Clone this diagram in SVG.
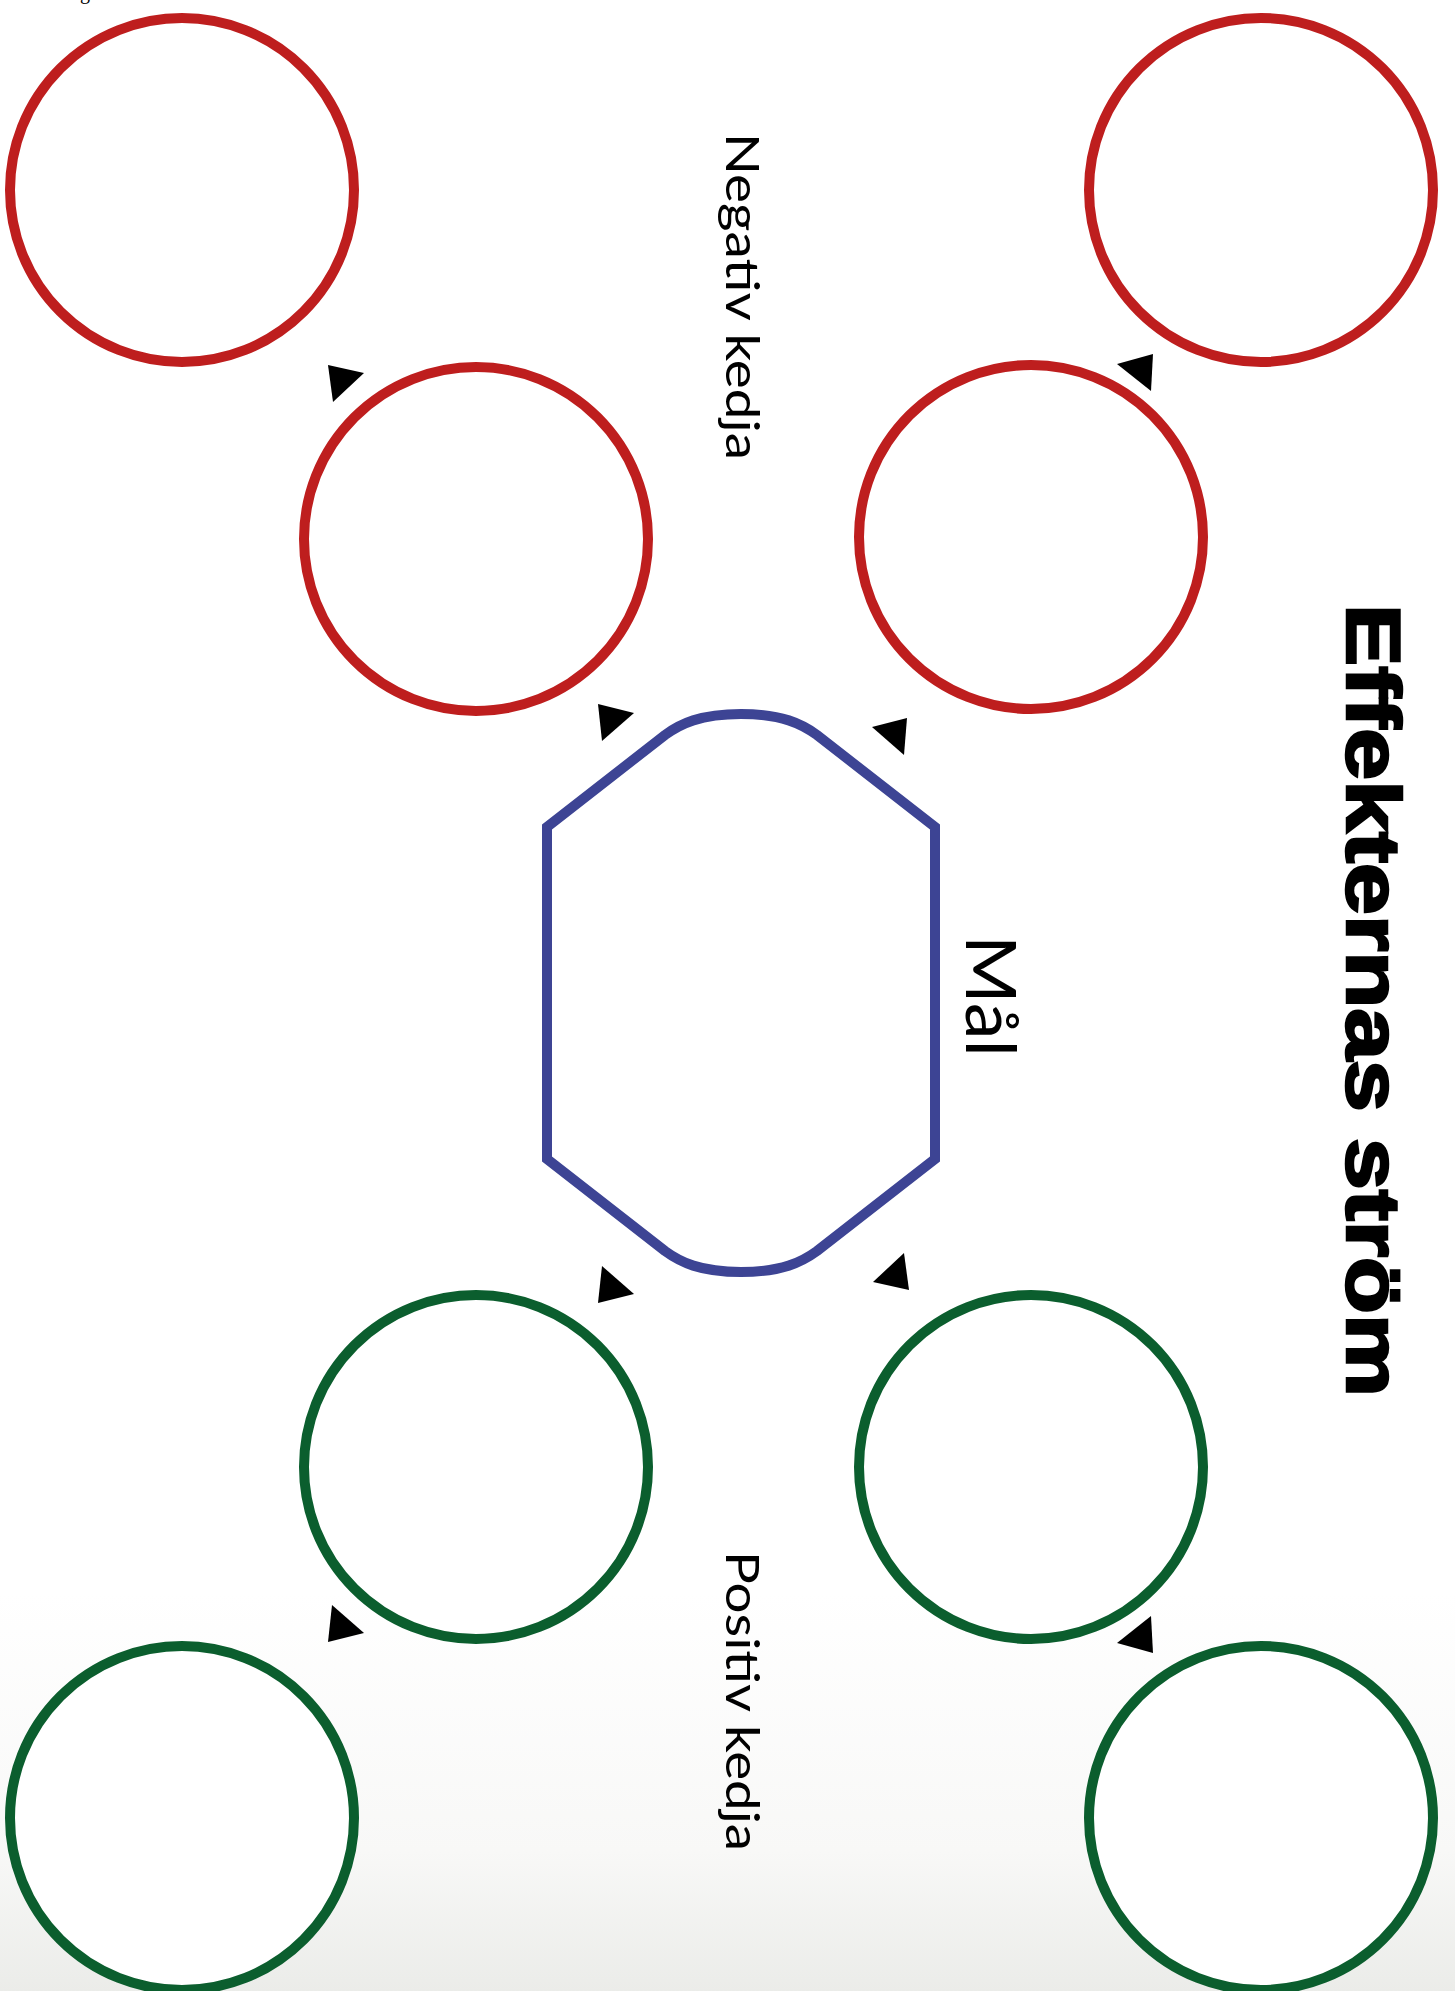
<svg xmlns="http://www.w3.org/2000/svg" width="1455" height="1991" viewBox="0 0 1455 1991">
  <defs>
    <linearGradient id="bg" x1="0" y1="0" x2="0" y2="1991" gradientUnits="userSpaceOnUse">
      <stop offset="0" stop-color="#ffffff"/>
      <stop offset="0.80" stop-color="#ffffff"/>
      <stop offset="0.93" stop-color="#f8f8f7"/>
      <stop offset="1" stop-color="#ebece9"/>
    </linearGradient>
  </defs>
  <style>
    .neg { fill: #ffffff; stroke: #be1e1e; stroke-width: 10; }
    .pos { fill: #ffffff; stroke: #0b5e2e; stroke-width: 10; }
    .goal { fill: #ffffff; stroke: #3d4494; stroke-width: 10; stroke-linejoin: miter; }
    .arrow { fill: #000000; stroke: none; }
    .label { font-family: Lato, "Open Sans", "Liberation Sans", sans-serif; font-weight: 400; fill: #000000; }
    .title { font-family: "Liberation Sans", Arial, sans-serif; font-weight: 700; fill: #000000; stroke: #000000; stroke-width: 2.5; }
  </style>
  <rect x="0" y="0" width="1455" height="1991" fill="url(#bg)"/>

  <text x="80" y="-1" font-family="Liberation Serif, serif" font-size="20" fill="#000">g</text>

  <g id="title">
    <text class="title" font-size="76" transform="translate(1347,604) rotate(90)" textLength="793" lengthAdjust="spacingAndGlyphs">Effekternas ström</text>
  </g>

  <g id="connectors">
    <polygon class="arrow" points="328,365 364,373 333,402"/>
    <polygon class="arrow" points="598,704 634,713 602,741"/>
    <polygon class="arrow" points="907,718 872,727 904,755"/>
    <polygon class="arrow" points="1153,354 1117,364 1151,391"/>
    <polygon class="arrow" points="602,1266 634,1294 598,1303"/>
    <polygon class="arrow" points="904,1253 873,1282 909,1290"/>
    <polygon class="arrow" points="332,1605 364,1633 328,1642"/>
    <polygon class="arrow" points="1151,1616 1117,1643 1153,1653"/>
  </g>

  <g id="neg-outer-left"><circle class="neg" cx="182" cy="190" r="172"/></g>
  <g id="neg-outer-right"><circle class="neg" cx="1261" cy="190" r="172"/></g>
  <g id="neg-inner-left"><circle class="neg" cx="476" cy="539" r="172"/></g>
  <g id="neg-inner-right"><circle class="neg" cx="1031" cy="537" r="172"/></g>
  <g id="pos-inner-left"><circle class="pos" cx="476" cy="1467" r="172"/></g>
  <g id="pos-inner-right"><circle class="pos" cx="1031" cy="1467" r="172"/></g>
  <g id="pos-outer-left"><circle class="pos" cx="182" cy="1818" r="172"/></g>
  <g id="pos-outer-right"><circle class="pos" cx="1261" cy="1818" r="172"/></g>

  <g id="goal">
    <path class="goal" d="M547,827 L665,735 C680,724 700,714 741,714 C782,714 802,724 817,735 L935,827 L935,1159 L817,1251 C802,1262 782,1272 741,1272 C700,1272 680,1262 665,1251 L547,1159 Z"/>
    <text class="label" font-size="70" transform="translate(966,935) rotate(90)" textLength="122" lengthAdjust="spacingAndGlyphs">Mål</text>
  </g>

  <g id="label-negative">
    <text class="label" font-size="47" transform="translate(726,133) rotate(90)" textLength="327" lengthAdjust="spacingAndGlyphs">Negativ kedja</text>
  </g>
  <g id="label-positive">
    <text class="label" font-size="47" transform="translate(726,1551) rotate(90)" textLength="300" lengthAdjust="spacingAndGlyphs">Positiv kedja</text>
  </g>
</svg>
